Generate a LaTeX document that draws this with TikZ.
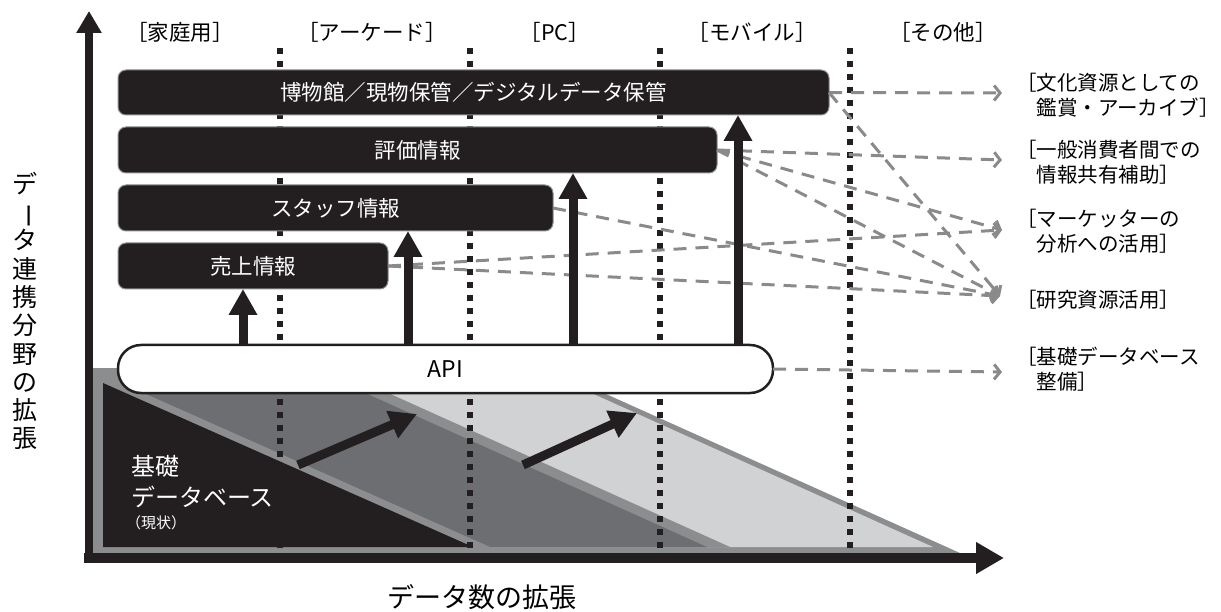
\documentclass[tikz,border=0pt]{standalone}
\usepackage{fontspec}
\newfontfamily\jp{Noto Sans CJK JP}
\usetikzlibrary{arrows.meta}
\definecolor{ink}{HTML}{231F20}
\definecolor{midgray}{HTML}{8C8D8F}
\definecolor{bandgray}{HTML}{6D6E71}
\definecolor{palegray}{HTML}{D1D2D4}
\definecolor{linkgray}{HTML}{8A8A8A}

\begin{document}
\begin{tikzpicture}[x=1pt,y=-1pt,
  every node/.style={font=\jp, inner sep=0pt, outer sep=0pt},
  infobox/.style={fill=ink, draw=midgray, line width=1pt, rounded corners=8pt,
    text=white, font=\jp\fontsize{21.5}{24}\selectfont},
  apibox/.style={fill=white, draw=ink, line width=2.5pt, rounded corners=23pt,
    font=\jp\fontsize{23}{26}\selectfont},
  collabel/.style={font=\jp\fontsize{21.5}{24}\selectfont},
  uselabel/.style={anchor=west, align=left, font=\jp\fontsize{20.5}{25}\selectfont},
  divider/.style={ink, line width=6pt, dash pattern=on 6pt off 7pt},
  uparrow/.style={ink, line width=9pt, -{Triangle[length=26pt,width=27pt]}},
  growarrow/.style={ink, line width=9pt, -{Triangle[length=27pt,width=28pt]}},
  link/.style={linkgray, line width=3pt, dash pattern=on 13pt off 9pt,
    -{Straight Barb[length=6pt,width=15pt,line width=3pt]}},
]
\useasboundingbox (0,0) rectangle (1221,612);

% stacked data areas
\fill[midgray] (93,368) -- (548,368) -- (960,553) -- (93,553) -- cycle;
\fill[palegray] (103,383) -- (569,383) -- (933,547) -- (103,547) -- cycle;
\fill[midgray] (103,383) -- (366,383) -- (730,547) -- (103,547) -- cycle;
\fill[bandgray] (103,383) -- (343,383) -- (707,547) -- (103,547) -- cycle;
\fill[midgray] (103,375) -- (490,547) -- (103,547) -- cycle;
\fill[ink] (103,383) -- (473,547) -- (103,547) -- cycle;

% column dividers
\coordinate (d1t) at (280,48); \coordinate (d1b) at (280,553);
\coordinate (d2t) at (470,48); \coordinate (d2b) at (470,553);
\coordinate (d3t) at (660,48); \coordinate (d3b) at (660,553);
\coordinate (d4t) at (850,48); \coordinate (d4b) at (850,553);
\draw[divider] (d1t) -- (d1b);
\draw[divider] (d2t) -- (d2b);
\draw[divider] (d3t) -- (d3b);
\draw[divider] (d4t) -- (d4b);

% growth arrows
\coordinate (g1a) at (298,465); \coordinate (g1b) at (417,414);
\coordinate (g2a) at (523,465); \coordinate (g2b) at (637,413);
\draw[growarrow] (g1a) -- (g1b);
\draw[growarrow] (g2a) -- (g2b);

% base label
\node[anchor=west, align=left, text=white, font=\jp\fontsize{24}{31}\selectfont]
  (base) at (131,482) {基礎\\データベース};
\node[anchor=west, text=white, font=\jp\fontsize{15}{18}\selectfont]
  (basenow) at (126,523) {（現状）};

% column labels
\node[collabel] (colhome)   at (180,32) {［家庭用］};
\node[collabel] (colarcade) at (372,32) {［アーケード］};
\node[collabel] (colpc)     at (555,32) {［PC］};
\node[collabel] (colmobile) at (752,32) {［モバイル］};
\node[collabel] (colother)  at (943,32) {［その他］};

% use labels
\node[uselabel] (use1) at (1016,95)  {［文化資源としての\\\hspace*{1em}鑑賞・アーカイブ］};
\node[uselabel] (use2) at (1016,162) {［一般消費者間での\\\hspace*{1em}情報共有補助］};
\node[uselabel] (use3) at (1016,231) {［マーケッターの\\\hspace*{1em}分析への活用］};
\node[uselabel] (use4) at (1016,300) {［研究資源活用］};
\node[uselabel] (use5) at (1016,369) {［基礎データベース\\\hspace*{1em}整備］};

\coordinate (t1) at (1002,93);
\coordinate (t2) at (1002,160);
\coordinate (t3) at (1002,230);
\coordinate (t4) at (1000,296);
\coordinate (t5) at (1002,372);

% information layers
\node[infobox, minimum width=711pt, minimum height=45pt] (museum) at (473.5,92.5)
  {博物館／現物保管／デジタルデータ保管};
\node[infobox, minimum width=599pt, minimum height=46pt] (review) at (417.5,150) {評価情報};
\node[infobox, minimum width=435pt, minimum height=46pt] (staff) at (335.5,208) {スタッフ情報};
\node[infobox, minimum width=270pt, minimum height=46pt] (sales) at (253,266) {売上情報};
\node[apibox, minimum width=655pt, minimum height=48pt] (api) at (445.5,369) {API};

% links to uses
\draw[link] (museum.east) -- (t1);
\draw[link] (museum.east) -- (t4);
\draw[link] (review.east) -- (t2);
\draw[link] (review.east) -- (t3);
\draw[link] (review.east) -- (t4);
\draw[link] (staff.east) -- (t4);
\draw[link] (sales.east) -- (t3);
\draw[link] (sales.east) -- (t4);
\draw[link] (api.east) -- (t5);

% API feeds
\coordinate (a1) at (243,0);
\coordinate (a2) at (408,0);
\coordinate (a3) at (573,0);
\coordinate (a4) at (738,0);
\draw[uparrow] (api.north -| a1) -- (sales.south -| a1);
\draw[uparrow] (api.north -| a2) -- (staff.south -| a2);
\draw[uparrow] (api.north -| a3) -- (review.south -| a3);
\draw[uparrow] (api.north -| a4) -- (museum.south -| a4);

% axes
\coordinate (origin) at (89,563);
\coordinate (ytip) at (89,11);
\coordinate (xstart) at (84,558);
\coordinate (xtip) at (1004,558);
\draw[ink, line width=8pt, -{Triangle[length=22pt,width=24pt]}] (origin) -- (ytip);
\draw[ink, line width=10pt, -{Triangle[length=28pt,width=30pt]}] (xstart) -- (xtip);

\node[align=center, font=\jp\fontsize{25}{28.3}\selectfont] (ylabel) at (25,311)
  {デ\\\rotatebox[origin=c]{-90}{ー}\\タ\\連\\携\\分\\野\\の\\拡\\張};
\node[font=\jp\fontsize{27}{30}\selectfont] (xlabel) at (482,597) {データ数の拡張};
\end{tikzpicture}
\end{document}
